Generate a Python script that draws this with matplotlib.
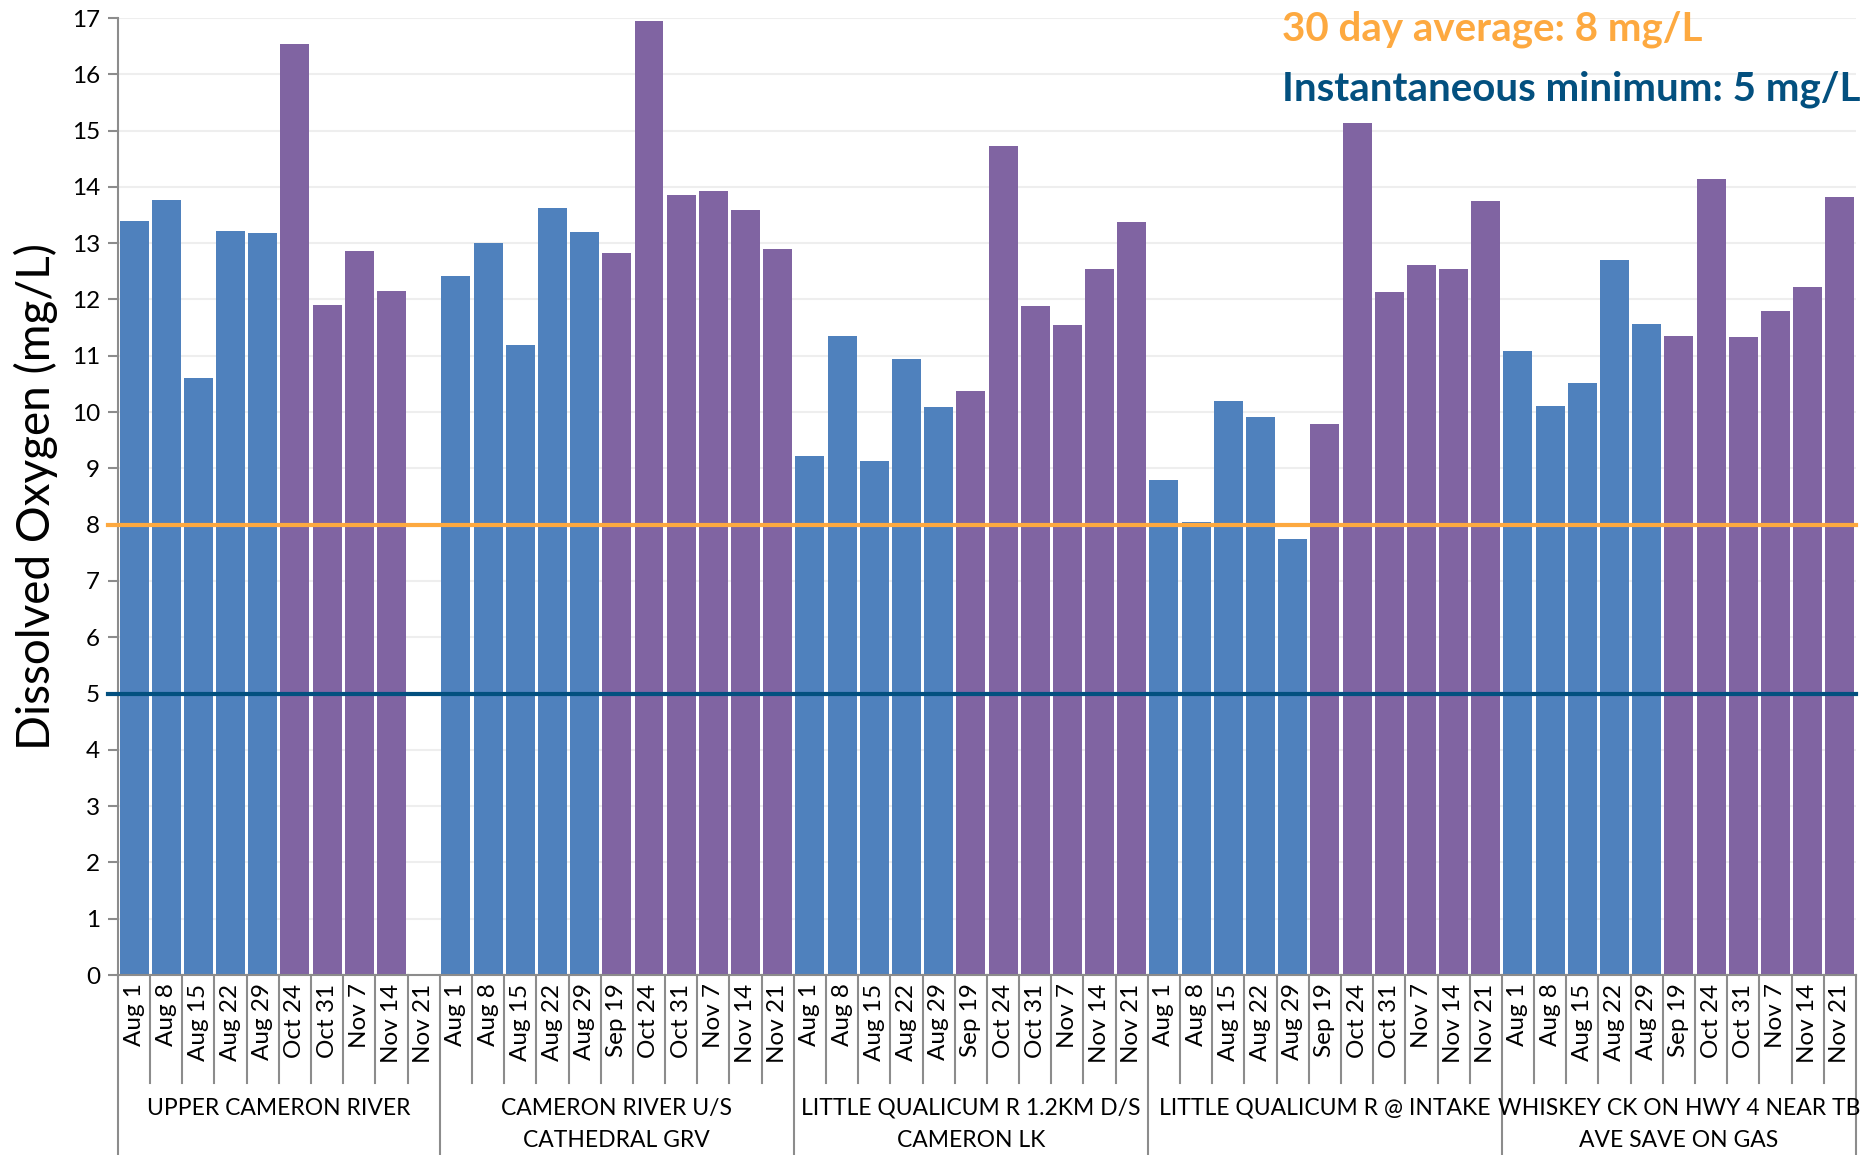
import matplotlib
matplotlib.use("Agg")
from matplotlib import pyplot as plt

plt.rcParams['font.family'] = ['Lato', 'DejaVu Sans']

# sites and their sampling dates
sites = [
    "UPPER CAMERON RIVER",
    "CAMERON RIVER U/S\nCATHEDRAL GRV",
    "LITTLE QUALICUM R 1.2KM D/S\nCAMERON LK",
    "LITTLE QUALICUM R @ INTAKE",
    "WHISKEY CK ON HWY 4 NEAR TB\nAVE SAVE ON GAS",
]
dates_upper = ["Aug 1", "Aug 8", "Aug 15", "Aug 22", "Aug 29",
               "Oct 24", "Oct 31", "Nov 7", "Nov 14", "Nov 21"]
dates_other = ["Aug 1", "Aug 8", "Aug 15", "Aug 22", "Aug 29", "Sep 19",
               "Oct 24", "Oct 31", "Nov 7", "Nov 14", "Nov 21"]

# dissolved oxygen, mg/L (None = no sample)
do_upper_cameron = [13.39, 13.77, 10.61, 13.21, 13.19, 16.54, 11.90, 12.86, 12.15, None]
do_cameron_us = [12.42, 13.01, 11.20, 13.63, 13.20, 12.83, 16.94, 13.86, 13.93, 13.59, 12.90]
do_lq_12km = [9.22, 11.35, 9.13, 10.94, 10.09, 10.38, 14.72, 11.89, 11.55, 12.54, 13.38]
do_lq_intake = [8.80, 8.04, 10.20, 9.92, 7.74, 9.79, 15.14, 12.13, 12.61, 12.54, 13.75]
do_whiskey = [11.09, 10.11, 10.52, 12.70, 11.57, 11.35, 14.14, 11.33, 11.80, 12.22, 13.82]

avg_30day = 8
inst_min = 5

BLUE = "#4F81BD"
PURPLE = "#8064A2"
ORANGE = "#FDA940"
NAVY = "#03507F"

groups = [
    (dates_upper, do_upper_cameron),
    (dates_other, do_cameron_us),
    (dates_other, do_lq_12km),
    (dates_other, do_lq_intake),
    (dates_other, do_whiskey),
]

fig = plt.figure(figsize=(18.66, 11.55), dpi=100)
ax = fig.add_axes([0.0632, 0.1558, 0.9314, 0.8286])

labels = []
group_bounds = []
x = 0
for dates, vals in groups:
    start = x
    for d, v in zip(dates, vals):
        labels.append(d)
        if v is not None:
            c = BLUE if d.startswith("Aug") else PURPLE
            ax.bar(x, v, width=0.9, color=c, zorder=2)
        x += 1
    group_bounds.append((start - 0.5, x - 0.5))

n = len(labels)
ax.set_xlim(-0.5, n - 0.5)
ax.set_ylim(0, 17)

ax.axhline(avg_30day, color=ORANGE, lw=3, zorder=3, xmin=-0.006, clip_on=False)
ax.axhline(inst_min, color=NAVY, lw=3, zorder=3, xmin=-0.006, clip_on=False)

ax.set_yticks(range(0, 18))
ax.yaxis.grid(True, color="#EEEEEE", lw=1.5, zorder=0)
ax.set_axisbelow(True)
ax.tick_params(axis="y", labelsize=17.5, length=7, width=1.5, color="#8C8C8C", pad=6)

ax.set_xticks(range(n))
ax.set_xticklabels(labels, rotation=90, fontsize=17.5)
ax.tick_params(axis="x", length=0, pad=6)

for s in ["top", "right"]:
    ax.spines[s].set_visible(False)
for s in ["left", "bottom"]:
    ax.spines[s].set_color("#8C8C8C")
    ax.spines[s].set_linewidth(1.5)

ax.set_ylabel("Dissolved Oxygen (mg/L)", fontsize=33, labelpad=10)

# category separators below the axis
trans = ax.get_xaxis_transform()
edges = set()
for lo, hi in group_bounds:
    edges.add(lo)
    edges.add(hi)
for i in range(n + 1):
    b = i - 0.5
    bottom = -0.19 if b in edges else -0.113
    ax.plot([b, b], [0, bottom], transform=trans, color="#8C8C8C", lw=1.5,
            clip_on=False, zorder=1)

for (lo, hi), name in zip(group_bounds, sites):
    ax.text((lo + hi) / 2, -0.128, name, transform=trans, ha="center", va="top",
            fontsize=16.5, linespacing=1.65)

fig.text(0.687, 0.975, "30 day average: 8 mg/L", color=ORANGE, fontsize=29,
         fontweight="bold", ha="left", va="center")
fig.text(0.687, 0.923, "Instantaneous minimum: 5 mg/L", color=NAVY, fontsize=29,
         fontweight="bold", ha="left", va="center")

fig.savefig("out.png", dpi=100)
